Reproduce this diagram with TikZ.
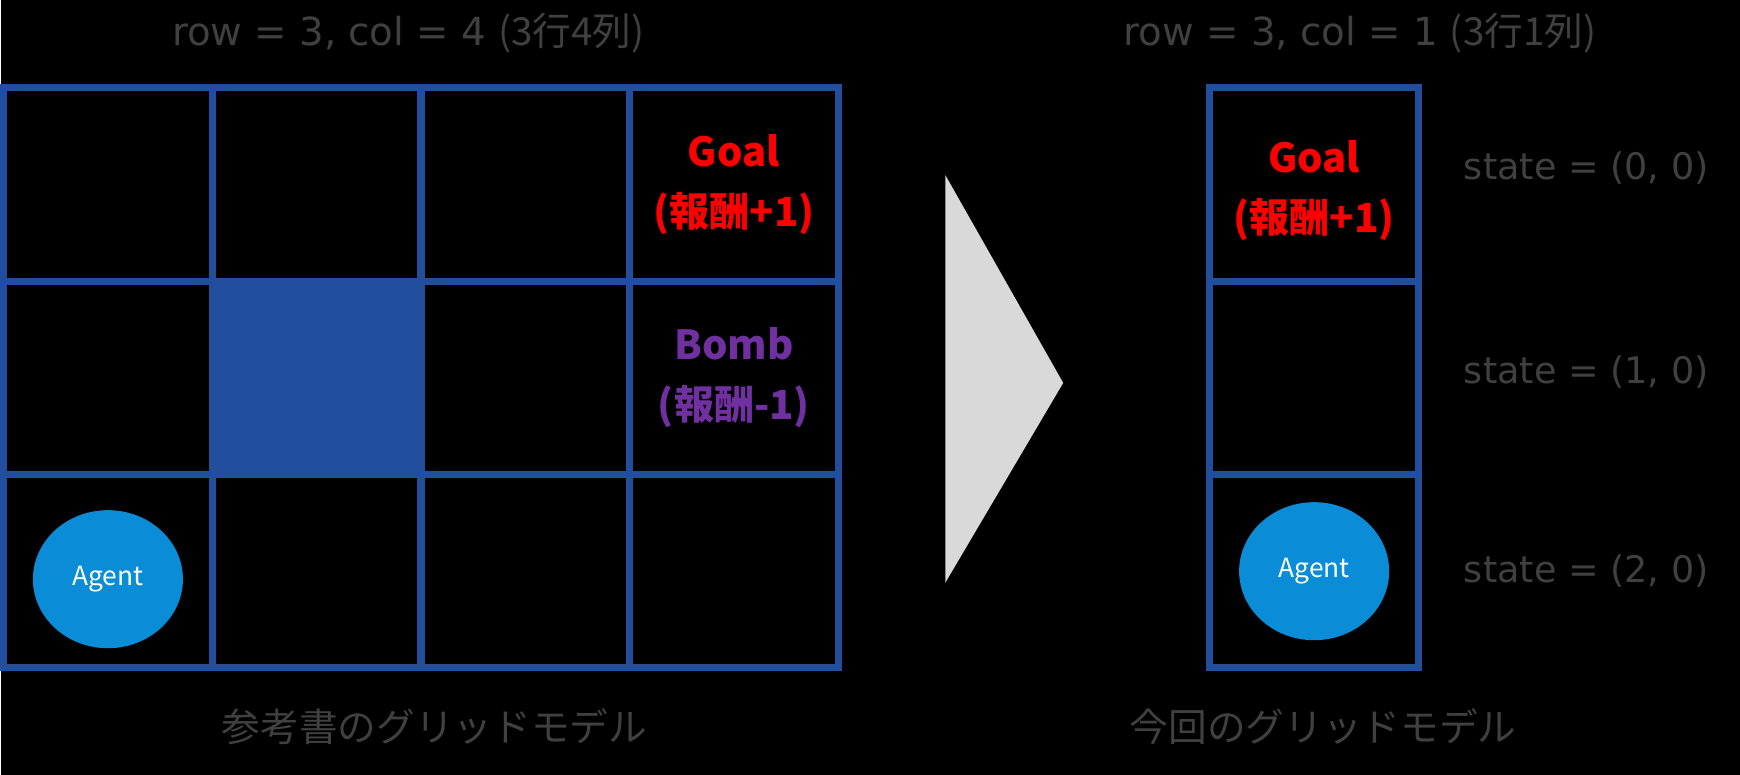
\documentclass[tikz,border=0pt]{standalone}
\usepackage{fontspec}
\setmainfont{Noto Sans CJK JP}
\newfontfamily\latinfont{DejaVu Sans}
\usepackage{xcolor}
\usetikzlibrary{positioning,shapes.geometric}

\definecolor{gridblue}{RGB}{33,79,158}
\definecolor{agentblue}{RGB}{11,140,214}
\definecolor{labelgray}{RGB}{64,64,64}
\definecolor{goalred}{RGB}{255,0,0}
\definecolor{bombpurple}{RGB}{112,48,160}
\definecolor{arrowgray}{RGB}{217,217,217}

\begin{document}
\begin{tikzpicture}[
  x=0.01cm, y=-0.01cm,
  cell/.style={draw=gridblue, line width=2pt, minimum width=2.0875cm, minimum height=1.9333cm,
    inner sep=0pt, outer sep=0pt},
  wall/.style={cell, fill=gridblue},
  agent/.style={ellipse, fill=agentblue, minimum width=1.5cm, minimum height=1.38cm,
    inner sep=0pt, text=white, font=\fontsize{7.5}{9}\selectfont},
  reward/.style={font=\bfseries\fontsize{11.4}{17}\selectfont, align=center},
  label/.style={text=labelgray, font=\fontsize{10.4}{12}\selectfont},
  title/.style={label, font=\fontsize{11}{13}\selectfont},
  caption/.style={text=labelgray, font=\fontsize{11}{13}\selectfont},
]

% background
\fill[black] (0,0) rectangle (1740,775);

% reference grid (3x4)
\foreach \r in {0,1,2}
  \foreach \c in {0,...,3}
    \node[cell] (L-\r-\c) at ({107.4+\c*208.75},{184.7+\r*193.33}) {};
\node[wall] at (L-1-1) {};

\node[reward, text=goalred] (goal-l) at (L-0-3) {Goal\\(報酬+1)};
\node[reward, text=bombpurple] (bomb-l) at (L-1-3) {Bomb\\(報酬-1)};
\node[agent, yshift=-0.08cm] (agent-l) at (L-2-0) {Agent};

% arrow
\fill[arrowgray] (945,175) -- (1063,383) -- (945,583) -- cycle;

% this grid (3x1)
\foreach \r in {0,1,2}
  \node[cell] (R-\r) at (1314,{184.7+\r*193.33}) {};

\node[reward, text=goalred, yshift=-0.06cm] (goal-r) at (R-0) {Goal\\(報酬+1)};
\node[agent] (agent-r) at (R-2) {Agent};

% state annotation
\node[label, anchor=west, right=0.33cm of R-0, yshift=0.17cm] (s0) {\latinfont state = (0, 0)};
\node[label, anchor=west, right=0.33cm of R-1, yshift=0.06cm] (s1) {\latinfont state = (1, 0)};
\node[label, anchor=west, right=0.33cm of R-2] (s2) {\latinfont state = (2, 0)};

% titles and captions
\node[title] (title-l) at (408,33) {{\latinfont row = 3, col = 4 }(3行4列)};
\node[title] (title-r) at (1360,33) {{\latinfont row = 3, col = 1 }(3行1列)};
\node[caption] (cap-l) at (434,727) {参考書のグリッドモデル};
\node[caption] (cap-r) at (1323,727) {今回のグリッドモデル};

\end{tikzpicture}
\end{document}
